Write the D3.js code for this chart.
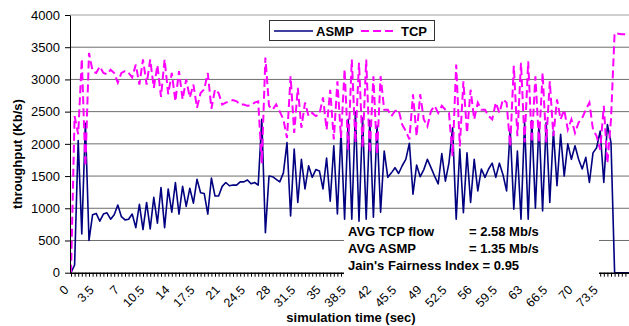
<!DOCTYPE html>
<html>
<head>
<meta charset="utf-8">
<script src="https://cdn.jsdelivr.net/npm/d3@7"></script>
<style>
  body { margin: 0; background: #fff; }
  svg { display: block; font-family: "Liberation Sans", Arial, sans-serif; }
</style>
</head>
<body>
<svg id="chart" width="629" height="326"></svg>
<script>
// simulation time, one sample every 0.5 sec
const times = d3.range(0, 78, 0.5);

// throughput (Kb/s)
const asmp = [
  0, 120, 2050, 600, 2320, 500, 900, 920, 800, 910, 930, 830, 900, 1050, 870, 820,
  830, 910, 700, 1060, 670, 1090, 680, 1170, 770, 1320, 700, 1300, 940, 1400, 910, 1340,
  1030, 1310, 1080, 1450, 1240, 1230, 910, 1470, 1190, 1190, 1340, 1400, 1350, 1360, 1360, 1410,
  1410, 1440, 1380, 1400, 1360, 2380, 620, 1500, 1490, 1450, 1410, 1550, 2020, 880, 1920, 1090,
  1760, 1300, 1660, 1480, 1600, 1580, 1300, 1780, 1110, 1970, 910, 2180, 830, 2380, 830, 2490,
  800, 2400, 830, 2360, 860, 2280, 940, 1890, 1480, 1550, 1630, 1540, 1660, 1760, 2010, 1220,
  1670, 1490, 1600, 1760, 1630, 1500, 1380, 1850, 1420, 1710, 2250, 830, 1920, 930, 1860, 1090,
  1760, 1270, 1610, 1480, 1610, 1700, 1480, 1700, 1520, 1270, 2230, 985, 1890, 830, 2330, 830,
  2360, 1000, 2330, 960, 2330, 1090, 2200, 1350, 2150, 1500, 2000, 1760, 1970, 1760, 1610, 1790,
  1400, 1860, 1940, 2200, 1400, 2300, 2020, 0, 0, 0, 0, 0
];
const tcp = [
  0, 2430, 2150, 3320, 1650, 3410, 3130, 3100, 3200, 3100, 3080, 3150, 3100, 2950, 3100, 3130,
  3100, 3030, 3230, 2920, 3310, 2920, 3310, 2870, 3220, 2730, 3310, 2770, 3100, 2660, 3130, 2690,
  3000, 2720, 2920, 2560, 2790, 2845, 3100, 2545, 2845, 2790, 2610, 2640, 2660, 2680, 2660, 2610,
  2610, 2590, 2600, 2640, 2660, 1700, 3340, 2590, 2530, 2610, 2500, 2380, 2090, 3050, 2170, 2870,
  2250, 2640, 2430, 2480, 2430, 2460, 2720, 2220, 2840, 2070, 2970, 2090, 3160, 1910, 3310, 2020,
  3260, 1940, 3310, 1860, 3050, 1840, 3050, 2530, 2530, 2430, 2510, 2530, 2300, 2200, 2070, 2770,
  2120, 2770, 2380, 2270, 2510, 2590, 2480, 2590, 2530, 2480, 1810, 3230, 1960, 2970, 2170, 2840,
  2380, 2640, 2530, 2530, 2430, 2380, 2640, 2480, 2690, 2640, 1960, 3210, 2120, 3260, 2020, 3280,
  2020, 3050, 2020, 3100, 2020, 2970, 2120, 2690, 2380, 2530, 2220, 2380, 2170, 2330, 2400, 2530,
  2640, 2220, 2120, 1910, 2590, 1700, 2380, 3720, 3710, 3700, 3700, 3700
];

const yTicks = [0, 500, 1000, 1500, 2000, 2500, 3000, 3500, 4000];
const xTickLabels = [0, 3.5, 7, 10.5, 14, 17.5, 21, 24.5, 28, 31.5, 35, 38.5, 42, 45.5,
  49, 52.5, 56, 59.5, 63, 66.5, 70, 73.5];
const seriesNames = ["ASMP", "TCP"];
const statLines = [
  ["AVG TCP flow", "= 2.58 Mb/s"],
  ["AVG ASMP", "= 1.35 Mb/s"],
  ["Jain's Fairness Index = 0.95", ""]
];

const svg = d3.select("#chart");
const plotLeft = 70, plotRight = 629, plotTop = 15, plotBottom = 272.7;

const x = d3.scalePoint().domain(times).range([plotLeft + 1, plotRight]);
const y = d3.scaleLinear().domain([0, 4000]).range([plotBottom, plotTop]);

// horizontal gridlines
svg.append("g")
    .selectAll("line")
    .data(yTicks.filter(d => d > 0))
    .enter().append("line")
    .attr("x1", plotLeft).attr("x2", plotRight)
    .attr("y1", d => y(d)).attr("y2", d => y(d))
    .attr("stroke", d => d === 4000 ? "#a0a0a0" : "#6e6e6e")
    .attr("stroke-width", 1);

// series lines
const line = (vals) => d3.line()
    .x((d, i) => x(times[i]))
    .y(d => y(d))(vals);

svg.append("path")
    .attr("d", line(asmp))
    .attr("fill", "none")
    .attr("stroke", "#000080")
    .attr("stroke-width", 1.6)
    .attr("stroke-linejoin", "round");

svg.append("path")
    .attr("d", line(tcp))
    .attr("fill", "none")
    .attr("stroke", "#ff00ff")
    .attr("stroke-width", 2)
    .attr("stroke-dasharray", "8,4");

// y axis
const yAxis = svg.append("g")
    .attr("transform", `translate(${plotLeft},0)`)
    .call(d3.axisLeft(y).tickValues(yTicks).tickFormat(d3.format("d"))
        .tickSize(5).tickSizeOuter(0).tickPadding(5));
yAxis.selectAll("text").style("font-size", "13px").attr("fill", "#000");
yAxis.selectAll("line, path").attr("stroke", "#000");

// x axis: a small tick per sample, labels every 3.5 sec
const xAxis = svg.append("g")
    .attr("transform", `translate(0,${plotBottom})`)
    .call(d3.axisBottom(x).tickSize(4).tickSizeOuter(0)
        .tickFormat(d => xTickLabels.includes(d) ? String(d) : ""));
xAxis.select(".domain").attr("d", `M${plotLeft},0.5H${plotRight}`)
    .attr("stroke", "#000").attr("stroke-width", 1.5);
xAxis.selectAll("line").attr("stroke", "#000");
xAxis.selectAll("text")
    .style("font-size", "12.5px")
    .attr("fill", "#000")
    .attr("text-anchor", "end")
    .attr("dy", null)
    .attr("y", null)
    .attr("transform", "translate(-2,18) rotate(-45)");

// stats box (white, covers the grid and axis underneath)
svg.append("rect")
    .attr("x", 344).attr("y", 224)
    .attr("width", 255).attr("height", 56)
    .attr("fill", "#fff");

const stats = svg.append("g")
    .style("font-size", "13px")
    .style("font-weight", "bold");
stats.selectAll("text.lbl")
    .data(statLines)
    .enter().append("text")
    .attr("class", "lbl")
    .attr("x", 348)
    .attr("y", (d, i) => 236 + i * 17)
    .text(d => d[0]);
stats.selectAll("text.val")
    .data(statLines)
    .enter().append("text")
    .attr("class", "val")
    .attr("x", 469)
    .attr("y", (d, i) => 236 + i * 17)
    .text(d => d[1]);

// legend
const legend = svg.append("g");
legend.append("rect")
    .attr("x", 269.5).attr("y", 20.5)
    .attr("width", 165).attr("height", 20)
    .attr("fill", "#fff")
    .attr("stroke", "#333");
legend.append("line")
    .attr("x1", 274).attr("x2", 313).attr("y1", 31).attr("y2", 31)
    .attr("stroke", "#000080").attr("stroke-width", 1.6);
legend.append("line")
    .attr("x1", 361).attr("x2", 397).attr("y1", 31).attr("y2", 31)
    .attr("stroke", "#ff00ff").attr("stroke-width", 2)
    .attr("stroke-dasharray", "8,4");
legend.selectAll("text")
    .data(seriesNames)
    .enter().append("text")
    .attr("x", (d, i) => i === 0 ? 316 : 401)
    .attr("y", 36)
    .style("font-size", "13px")
    .style("font-weight", "bold")
    .text(d => d);

// axis titles
svg.append("text")
    .attr("transform", "translate(22,154) rotate(-90)")
    .attr("text-anchor", "middle")
    .style("font-size", "13px")
    .style("font-weight", "bold")
    .text("throughput (Kb/s)");

svg.append("text")
    .attr("x", 351).attr("y", 322)
    .attr("text-anchor", "middle")
    .style("font-size", "13px")
    .style("font-weight", "bold")
    .text("simulation time (sec)");
</script>
</body>
</html>
